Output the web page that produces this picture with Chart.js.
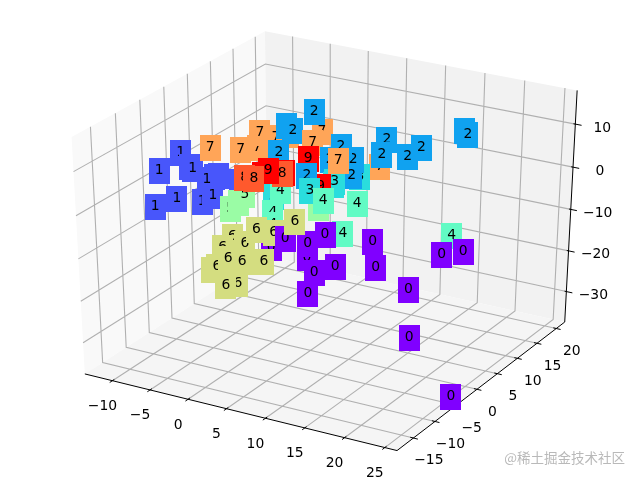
<!DOCTYPE html>
<html>
<head>
<meta charset="utf-8">
<script src="https://cdn.jsdelivr.net/npm/chart.js@4"></script>
<style>
  html, body { margin: 0; background: #fff; }
  canvas { display: block; }
</style>
</head>
<body>
<canvas id="chart" width="640" height="480"></canvas>
<script>
// axis limits and ticks
const xLimits = [-12.9, 25.7];
const yLimits = [-17.9, 21.4];
const zLimits = [-36.5, 16.6];
const xTicks = [-10, -5, 0, 5, 10, 15, 20, 25];
const yTicks = [-15, -10, -5, 0, 5, 10, 15, 20];
const zTicks = [-30, -20, -10, 0, 10];

// one entry per labelled point, in drawing order (later ones sit on top)
const pointDigits = [
  1, 1, 1, 1, 1, 1, 1, 1, 1, 1, 1, 1,
  7, 7, 7, 7, 7, 7, 7, 7,
  3, 2, 2, 2, 2, 7, 2, 2, 2, 2, 2, 2, 2, 2, 2, 2,
  9, 9, 9, 5, 5, 5, 5, 3, 3, 3, 9, 4, 4, 4, 8, 8, 9, 8, 2, 7, 3,
  4, 4, 4, 4, 0,
  6, 6, 6, 6, 6, 6, 6, 6, 6, 6, 6, 6,
  0, 0, 0, 0, 0, 0, 0, 0, 0, 0, 0, 0, 0, 0, 6
];
const pointX = [
  -6.7, -4.1, -1.9, -2.4, 0.8, -5.6, -5.2, -3.4, -2.7, -9.6, -10.3, -7.4,
  -2.3, -4.0, -6.5, 2.0, 9.4, -6.1, -8.7, -12.8,
  9.1, -5.0, -4.1, -1.3, -6.0, 0.8, 0.8, 3.8, 2.2, 3.6, 8.1, 7.5, 12.5, 10.8, 17.9, 18.3,
  -3.4, -0.6, 2.5, -4.1, -3.1, 7.2, -2.2, -2.1, 5.7, 5.9, 4.1, 1.2, 0.2, 0.2, -4.6, 0.3, -2.7, -3.4, -2.3, 4.1, 2.7,
  11.0, 6.7, 9.2, 22.8, 2.3,
  -0.3, -1.6, 1.3, 2.8, 5.0, -3.1, -2.4, 0.3, -0.9, 0.9, 3.7, -1.3,
  4.1, 6.9, 9.2, 7.0, 10.5, 7.8, 7.0, 15.2, 15.6, 19.7, 19.9, 25.3, 23.7, 26.3, 7.7
];
const pointY = [
  -8, -8, -8, -8, -8, -8, -8, -8, -8, -8, -8, -8,
  8, 8, 8, 8, 8, 8, 8, 8,
  4, 12, 12, 12, 12, 8, 12, 12, 12, 12, 12, 12, 12, 12, 12, 12,
  4, 4, 4, -2, -2, -2, -2, 4, 4, 4, 4, 0, 0, 0, 2, 2, 4, 2, 12, 8, 4,
  0, 0, 0, 0, -4,
  -8, -8, -8, -8, -8, -8, -8, -8, -8, -8, -8, -8,
  -4, -4, -4, -4, -4, -4, -4, -4, -4, -4, -4, -4, -4, -4, -8
];
const pointZ = [
  10.0, -0.2, 6.7, 6.2, 6.3, 7.2, 7.0, 5.1, 1.7, 4.8, -3.8, -0.8,
  5.8, 4.5, 1.2, 8.1, 2.7, 4.9, 0.0, -1.1,
  2.8, 4.5, 3.6, 9.1, -2.3, 5.1, -1.4, -0.3, 2.2, -4.1, 6.0, 2.2, 5.7, 3.0, 11.6, 10.8,
  -1.4, 0.1, 4.5, -5.8, -4.0, -1.1, -1.8, -6.1, -0.3, 0.5, -1.4, -0.9, -6.4, -9.2, -1.3, 1.5, -0.2, -1.1, -6.4, 2.1, -2.9,
  -0.1, -1.1, -7.8, -2.8, -11.1,
  -6.9, -9.9, -7.8, -4.0, -3.8, -15.7, -14.7, -17.7, -12.2, -12.2, -11.1, -18.8,
  -8.3, -11.6, -5.3, -8.3, -12.3, -14.8, -20.1, -4.5, -10.4, -13.9, -25.1, -36.9, -4.1, -2.4, -0.2
];

// box colour of each digit 0-9
const digitColors = ["#8000ff", "#4856fb", "#10a2f0", "#2adddd", "#62fbc4", "#9afca5", "#d4dd80", "#ffa558", "#ff592d", "#ff0000"];

const watermark = "@稀土掘金技术社区";

// camera of a default 3D view: elevation 30, azimuth -60, eye 10 away from the unit cube
const S = Math.sqrt(3) / 2;
const right = [S, 0.5, 0];
const up = [-0.25, 0.5 * S, S];
const toEye = [0.5 * S, -0.75, 0.5];
const dot = (a, b) => a[0] * b[0] + a[1] * b[1] + a[2] * b[2];

function unit(v, lim) {
  return (v - lim[0]) / (lim[1] - lim[0]) - 0.5;
}

// takes values already in the unit cube, centred on 0
function projectUnit(d) {
  const w = 10 - dot(toEye, d);
  return { x: dot(right, d) / w, y: dot(up, d) / w };
}

function project(x, y, z) {
  return projectUnit([unit(x, xLimits), unit(y, yLimits), unit(z, zLimits)]);
}

// panes stand a little outside the limits
const EDGE = 0.5 + 1 / 48;
const lo = -EDGE, hi = EDGE;
const GAP = { x: NaN, y: NaN };

const gridPoints = [];
const axisPoints = [];
xTicks.forEach(t => {
  const d = unit(t, xLimits);
  gridPoints.push(projectUnit([d, lo, lo]), projectUnit([d, hi, lo]), projectUnit([d, hi, hi]), GAP);
  axisPoints.push(projectUnit([d, lo - 0.0144, lo]), projectUnit([d, lo + 0.01, lo]), GAP);
});
yTicks.forEach(t => {
  const d = unit(t, yLimits);
  gridPoints.push(projectUnit([hi, d, lo]), projectUnit([lo, d, lo]), projectUnit([lo, d, hi]), GAP);
  axisPoints.push(projectUnit([hi + 0.0144, d, lo]), projectUnit([hi - 0.01, d, lo]), GAP);
});
zTicks.forEach(t => {
  const d = unit(t, zLimits);
  gridPoints.push(projectUnit([lo, lo, d]), projectUnit([lo, hi, d]), projectUnit([hi, hi, d]), GAP);
  axisPoints.push(projectUnit([hi + 0.02, hi, d]), projectUnit([hi - 0.006, hi, d]), GAP);
});
axisPoints.push(
  projectUnit([lo, lo, lo]), projectUnit([hi, lo, lo]),
  projectUnit([hi, hi, lo]), projectUnit([hi, hi, hi])
);

const panes = [
  { color: "#f9f9f9", corners: [[lo, lo, lo], [lo, hi, lo], [lo, hi, hi], [lo, lo, hi]] },
  { color: "#f2f2f2", corners: [[lo, hi, lo], [hi, hi, lo], [hi, hi, hi], [lo, hi, hi]] },
  { color: "#f5f5f5", corners: [[lo, lo, lo], [hi, lo, lo], [hi, hi, lo], [lo, hi, lo]] }
];

// label boxes, one stamp per digit
const boxes = digitColors.map(color => {
  const c = document.createElement("canvas");
  c.width = 21;
  c.height = 26;
  const g = c.getContext("2d");
  g.fillStyle = color;
  g.fillRect(0, 0, 21, 26);
  return c;
});

const lineStyle = { showLine: true, pointRadius: 0, spanGaps: false };
const datasets = [
  { ...lineStyle, data: gridPoints, borderColor: "#b0b0b0", borderWidth: 1.1, order: 100000 },
  { ...lineStyle, data: axisPoints, borderColor: "#000000", borderWidth: 1, order: 99999 }
];
pointDigits.forEach((digit, i) => {
  datasets.push({
    data: [project(pointX[i], pointY[i], pointZ[i])],
    digit: digit,
    pointStyle: boxes[digit],
    pointRadius: 13,
    order: pointDigits.length - i
  });
});

const TICK_FONT = '13.9px "DejaVu Sans"';

const frame3d = {
  id: "frame3d",
  beforeDatasetsDraw(chart) {
    const { ctx, scales } = chart;
    panes.forEach(p => {
      ctx.beginPath();
      p.corners.forEach(c => {
        const q = projectUnit(c);
        ctx.lineTo(scales.x.getPixelForValue(q.x), scales.y.getPixelForValue(q.y));
      });
      ctx.closePath();
      ctx.fillStyle = p.color;
      ctx.fill();
    });
  },
  // digit goes right after its own box so later boxes can cover it
  afterDatasetDraw(chart, args) {
    const ds = chart.data.datasets[args.index];
    if (ds.digit === undefined) return;
    const el = args.meta.data[0];
    const ctx = chart.ctx;
    ctx.save();
    ctx.font = TICK_FONT;
    ctx.fillStyle = "#000";
    ctx.textAlign = "center";
    ctx.textBaseline = "middle";
    ctx.fillText(String(ds.digit), el.x, el.y - 0.5);
    ctx.restore();
  },
  afterDraw(chart) {
    const { ctx, scales } = chart;
    const label = (q, text, dx, dy) => {
      ctx.fillText(text.replace("-", "\u2212"), scales.x.getPixelForValue(q.x) + dx, scales.y.getPixelForValue(q.y) + dy);
    };
    ctx.save();
    ctx.font = TICK_FONT;
    ctx.fillStyle = "#000";
    ctx.textAlign = "center";
    ctx.textBaseline = "middle";
    xTicks.forEach(t => label(projectUnit([unit(t, xLimits), lo, lo]), String(t), -10, 25.7));
    yTicks.forEach(t => label(projectUnit([hi, unit(t, yLimits), lo]), String(t), 15.5, 22.7));
    zTicks.forEach(t => label(projectUnit([hi, hi, unit(t, zLimits)]), String(t), 27, 4));
    ctx.font = '13.5px "Noto Sans CJK SC"';
    ctx.fillStyle = "#b9b9b9";
    ctx.textAlign = "right";
    ctx.fillText(watermark, 625, 458);
    ctx.restore();
  }
};

new Chart(document.getElementById("chart"), {
  type: "scatter",
  data: { datasets },
  plugins: [frame3d],
  options: {
    responsive: false,
    animation: false,
    events: [],
    layout: { autoPadding: false, padding: 0 },
    plugins: { legend: { display: false }, tooltip: { enabled: false } },
    scales: {
      x: { display: false, min: -0.095, max: 0.09 },
      y: { display: false, min: -0.095, max: 0.09 }
    }
  }
});
</script>
</body>
</html>
